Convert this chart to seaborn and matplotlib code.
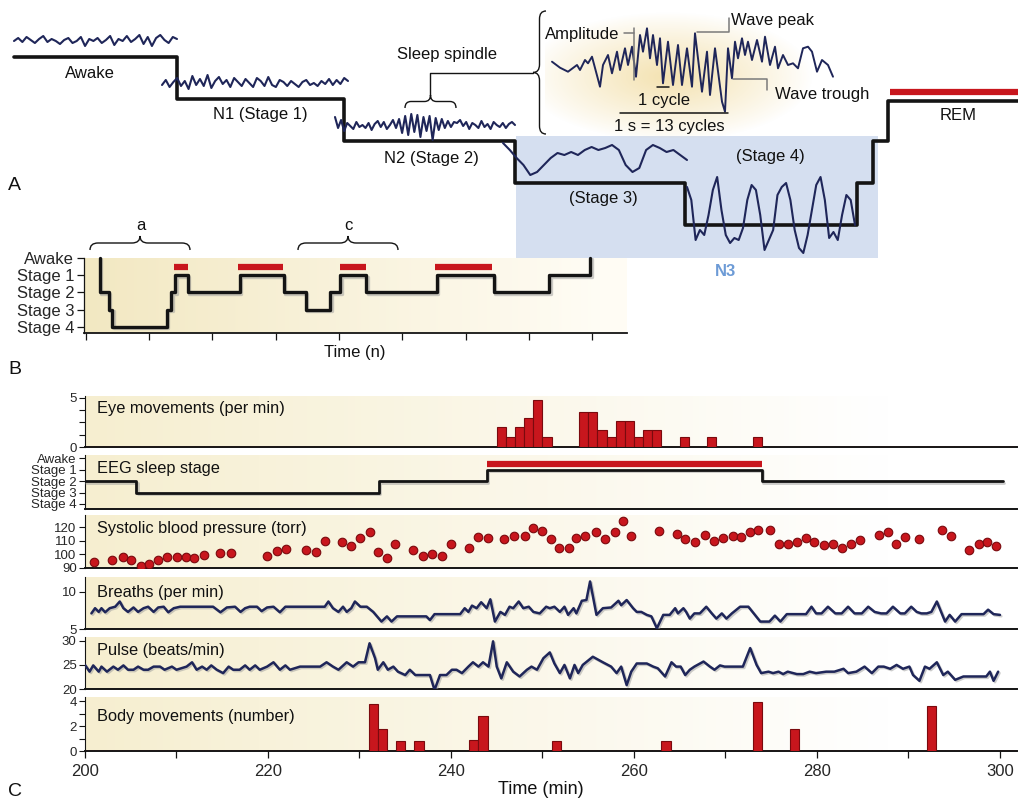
import numpy as np
import pandas as pd
import matplotlib
matplotlib.use("Agg")
import matplotlib.pyplot as plt
import seaborn as sns
from matplotlib.path import Path
from matplotlib.patches import PathPatch, Rectangle
import matplotlib.patheffects as pe

# ======================= DATA =======================
# --- Panel A: schematic hypnogram (schematic time units, stage level 4=Awake ... 0=Stage 4)
a_step_x = [14, 177, 344, 515, 685, 857, 873, 888, 1018]
a_step_level = [4, 3, 2, 1, 0, 1, 2, 2.95, 2.95]
a_rem_span = [890, 1018]
# EEG sample traces (amplitude, arbitrary units)
eeg_awake = [0, 3, -1, 4, 1, -2, 2, 5, -1, 2, 0, -3, 1, 3, -2, 0, 4, -5, 2, 0, 3, -2, 1, 5, -4,
             2, 0, 5, -1, 2, 6, -3, 4, -5, 3, 6, 1, -2, 4, 2]
eeg_n1 = [-2, 3, -4, 1, 5, -3, 2, -6, 7, -2, 4, -3, 8, -5, 2, 6, -1, 3, -4, 5, 1, -3, 4, 0, -4,
          5, 2, -3, 6, -2, -4, 3, 1, -3, 2, -1, -4, 1, 3, -2, 0, -3, 2, -1, 4, -2, 3, -1, 5, 2]
eeg_n2 = [8, -3, 5, -6, 2, -1, -4, 3, -2, 0, -3, 2, -5, 1, 4, -2, 3, -4, 0, 5, -3, 6, -8, 9, -10,
          11, -7, 10, -12, 8, -6, 9, -15, 7, -5, 6, -3, 4, -2, 3, 2, 5, -1, 3, -4, 2, 0, -3, 4, -2,
          1, -4, 3, 0, -2, 2, -3, 1, 3, 0]
eeg_s3 = [40, 33, 25, 18, 8, 11, 18, 25, 30, 28, 31, 28, 33, 36, 33, 35, 38, 33, 18, 11, 15, 33,
          38, 35, 31, 33, 28, 23]
eeg_s4 = [38, 25, -15, -5, -10, 10, 35, 48, 15, -10, -18, -13, -15, -3, 25, 40, 35, 10, -25, -15,
          -5, 30, 38, 42, 25, -5, -23, -28, -10, 15, 40, 48, 25, -13, -7, -15, 10, 30, 25, 0]
eeg_rem = [22, 26, 24, 28, 25, 27, 30, 26, 24, 25, 28, 31, 27, 25, 26, 29, 24, 27, 30, 26, 28, 32,
           27, 25, 29, 31, 26, 28, 33, 27]
# magnified sleep spindle (schematic x, amplitude)
spindle_x = [552, 560, 568, 577, 580, 585, 588, 592, 600, 603, 608, 612, 617, 620, 625, 628, 632,
             636, 640, 643, 647, 650, 653, 657, 660, 663, 668, 673, 678, 682, 687, 692, 695, 702,
             707, 710, 715, 722, 725, 728, 732, 735, 738, 742, 745, 748, 752, 757, 762, 765, 770,
             775, 778, 783, 788, 793, 798, 803, 808, 812, 817, 822, 828, 833]
spindle_amp = [0.3, -5.7, -9.7, -3, -8, 2, -1.3, 5.3, -24.7, -3, 7, -11.3, 10.3, -8, 13.7, -3,
               15.3, -14.7, 27, 10.3, 33.7, 3.7, 27, -3, 23.7, -21.3, 20.3, -23, 17, -23, 13.7,
               -24.7, 28.7, -29.7, 10.3, -33, 13.7, -39.7, -49.7, 13.7, -16.3, 20.3, 3.7, 23.7,
               7, 20.3, 2, 22, 0.3, 25.3, -3, 15.3, -6.3, 7, -3, -1.3, -6.3, 13.7, 15.3, 10.3,
               -9.7, 2, -3, -14.7]

# --- Panel B: hypnogram over one night (time in n units)
b_stage_labels = ["Awake", "Stage 1", "Stage 2", "Stage 3", "Stage 4"]
b_times = [0.22, 0.22, 0.36, 0.42, 1.28, 1.35, 1.41, 1.61, 2.43, 3.13, 3.47, 3.86, 4.02, 4.43,
           5.54, 6.45, 7.32, 7.97, 7.97]
b_levels = [4, 2, 1, 0, 1, 2, 3, 2, 3, 2, 1, 2, 3, 2, 3, 2, 3, 4, 4]
b_rem_start = [1.39, 2.41, 4.02, 5.52]
b_rem_end = [1.61, 3.12, 4.43, 6.42]

# --- Panel C: polysomnography, time in minutes
eye_t = [245, 246, 247, 248, 249, 250, 254, 255, 256, 257, 258, 259, 260, 261, 262, 265, 268, 273]
eye_v = [2, 1, 2, 3, 4.8, 1, 3.6, 3.6, 1.7, 1, 2.7, 2.7, 1, 1.75, 1.75, 1, 1, 1]

eeg_t = [200, 205.6, 232.1, 243.9, 274.0, 300.3]
eeg_level = [2, 1, 2, 3, 2, 2]
eeg_rem = [243.9, 274.0]

sbp_t = [201.0, 203.0, 204.1, 205.0, 206.1, 207.0, 208.0, 209.0, 210.1, 211.0, 211.9, 213.0, 214.8,
         216.0, 219.9, 221.0, 222.0, 224.1, 225.2, 226.2, 228.1, 229.1, 230.1, 231.1, 232.0, 233.0,
         233.9, 235.9, 236.9, 237.9, 239.0, 240.0, 242.0, 242.9, 244.0, 245.8, 246.9, 248.1, 249.0,
         250.0, 250.9, 251.8, 252.9, 253.7, 254.7, 255.8, 256.8, 257.9, 258.8, 259.7, 262.7, 264.7,
         265.6, 266.7, 267.8, 268.7, 269.7, 270.8, 271.7, 272.7, 273.6, 274.9, 275.9, 276.8, 277.8,
         278.8, 279.7, 280.8, 281.8, 282.7, 283.7, 284.7, 286.8, 287.8, 288.6, 289.6, 291.2, 293.7,
         294.6, 296.6, 297.7, 298.6, 299.6]
sbp_v = [94.4, 96.2, 98.1, 96.2, 91.5, 93.2, 96.2, 97.7, 97.7, 97.7, 97.0, 99.4, 101.1,
         101.1, 98.9, 102.6, 103.6, 103.1, 101.4, 109.8, 109.3, 106.3, 112.2, 116.7, 101.4, 97.4,
         107.3, 103.1, 98.9, 100.6, 98.9, 107.3, 104.8, 113.0, 111.8, 111.3, 113.7, 113.5, 119.6,
         117.4, 111.3, 104.8, 104.8, 111.8, 113.7, 116.2, 111.3, 116.2, 124.1, 113.7, 117.4, 115.0,
         111.3, 109.3, 114.2, 110.0, 111.8, 113.7, 113.0, 116.2, 117.9, 117.9, 107.3, 107.3, 108.8,
         111.8, 109.3, 106.8, 107.3, 104.8, 107.3, 110.5, 114.2, 116.2, 107.3, 113.0, 111.3, 117.9,
         113.7, 103.1, 107.3, 108.8, 106.3]

breath_t = [200.7, 201.1, 201.5, 201.8, 202.2, 202.7, 203.3, 203.8, 204.2, 204.7, 205.3, 205.8,
            206.4, 206.9, 207.5, 208.0, 208.6, 209.1, 209.7, 210.4, 214.0, 214.8, 215.5, 216.4,
            217.0, 217.5, 218.0, 218.8, 219.3, 219.9, 220.6, 221.3, 221.9, 226.2, 226.6, 227.1,
            227.7, 228.2, 228.6, 229.1, 229.5, 230.1, 230.8, 231.5, 232.4, 233.0, 233.5, 234.1,
            237.3, 237.7, 238.2, 241.0, 241.5, 241.9, 242.3, 242.8, 243.3, 243.9, 244.3, 244.8,
            245.4, 245.9, 246.4, 246.8, 247.4, 247.9, 248.5, 249.0, 249.7, 250.4, 250.8, 251.3,
            251.9, 252.4, 252.8, 253.4, 253.7, 254.3, 254.8, 255.2, 255.9, 256.6, 257.5, 258.3,
            258.6, 259.2, 259.9, 260.3, 260.8, 261.4, 261.9, 262.5, 263.2, 263.9, 264.5, 264.8,
            265.4, 265.7, 266.1, 266.6, 267.2, 267.9, 268.5, 269.0, 269.6, 270.1, 270.7, 271.6,
            272.5, 273.8, 274.8, 275.4, 276.0, 276.7, 278.8, 279.4, 279.9, 280.5, 281.2, 282.0,
            282.7, 283.4, 284.1, 284.9, 285.6, 286.3, 287.0, 287.6, 288.3, 289.1, 289.6, 290.3,
            290.9, 291.4, 292.0, 292.5, 293.1, 293.4, 294.0, 294.5, 295.1, 295.8, 298.2, 298.7,
            299.3, 300.0]
breath_v = [7.1, 7.8, 7.3, 7.8, 7.25, 7.8, 8.0, 8.7, 7.8, 7.3, 7.9, 7.3,
            7.8, 8.0, 7.3, 7.9, 8.0, 7.25, 7.8, 8.0, 8.0, 7.25, 7.9, 8.0,
            7.3, 7.8, 8.0, 8.0, 7.4, 7.9, 8.0, 7.25, 8.0, 8.0, 8.7, 7.8,
            7.3, 8.0, 7.3, 7.8, 8.7, 8.0, 8.0, 7.3, 6.0, 6.7, 6.0, 6.7,
            6.7, 6.2, 7.0, 7.0, 7.8, 7.3, 8.15, 7.8, 8.6, 7.8, 9.0, 6.0,
            7.3, 6.9, 8.0, 7.8, 8.7, 7.8, 8.0, 7.3, 7.1, 8.0, 7.8, 8.0,
            7.3, 8.0, 6.9, 7.8, 7.1, 8.8, 8.9, 11.4, 6.9, 7.8, 7.9, 8.8,
            8.2, 8.9, 7.8, 7.3, 7.3, 6.9, 6.7, 5.1, 6.9, 6.9, 7.8, 7.1,
            7.8, 7.3, 6.4, 7.1, 7.1, 8.0, 7.1, 6.4, 7.1, 6.4, 7.1, 8.0,
            8.0, 6.0, 6.0, 6.8, 6.0, 7.0, 7.0, 8.0, 7.1, 7.1, 8.0, 7.1,
            7.1, 8.0, 7.1, 7.1, 8.0, 7.3, 7.1, 7.1, 8.0, 7.1, 7.1, 8.0,
            7.3, 7.1, 7.1, 7.3, 8.7, 7.8, 6.0, 6.9, 6.0, 7.0, 7.0, 7.6,
            7.0, 6.9]

pulse_t = [200.0, 200.5, 200.9, 201.5, 201.8, 202.4, 203.1, 203.6, 204.2, 204.7, 205.3, 205.8,
           206.4, 206.9, 207.5, 208.2, 208.7, 209.5, 210.0, 211.1, 211.7, 212.2, 212.8, 213.3,
           213.8, 214.4, 215.1, 215.7, 216.2, 216.9, 217.5, 218.0, 218.6, 219.1, 219.9, 220.6,
           221.3, 221.9, 222.4, 223.5, 225.7, 226.4, 227.1, 227.7, 228.6, 229.3, 229.9, 230.6,
           231.1, 231.7, 232.0, 232.6, 233.1, 233.7, 234.2, 235.0, 235.5, 236.1, 237.7, 238.2,
           238.8, 239.5, 240.1, 240.6, 241.2, 241.9, 242.4, 243.0, 243.5, 244.1, 244.6, 245.0,
           245.5, 246.1, 246.8, 247.5, 248.3, 248.8, 249.4, 250.1, 250.8, 251.3, 251.9, 252.4,
           253.0, 253.5, 253.9, 254.4, 255.5, 256.6, 257.5, 258.1, 258.6, 259.2, 259.7, 260.3,
           261.4, 262.1, 262.6, 263.4, 264.1, 264.6, 265.1, 265.6, 266.1, 266.6, 267.6, 268.3,
           268.8, 269.4, 269.9, 271.9, 272.7, 273.4, 273.9, 274.7, 275.2, 275.8, 276.3, 276.8,
           277.8, 278.5, 279.2, 279.9, 281.0, 281.9, 282.9, 283.4, 284.3, 285.2, 286.0, 286.7,
           287.3, 288.0, 288.7, 289.4, 290.1, 290.5, 291.2, 291.8, 292.3, 293.1, 293.8, 294.3,
           295.1, 296.0, 298.5, 298.9, 299.3, 299.8]
pulse_v = [25.0, 23.6, 24.9, 23.6, 24.65, 23.6, 24.65, 24.0, 24.9, 24.0, 24.0, 24.65,
           24.0, 24.0, 24.65, 24.65, 24.0, 24.65, 24.0, 24.65, 25.55, 24.0, 24.65, 24.0,
           24.9, 24.0, 23.3, 24.65, 24.0, 24.0, 24.9, 24.0, 24.9, 24.0, 24.65, 25.55,
           24.0, 24.9, 24.0, 24.65, 24.65, 25.55, 24.65, 24.0, 25.55, 24.65, 25.55, 25.55,
           29.5, 26.4, 24.0, 25.55, 24.0, 24.65, 23.6, 22.9, 24.0, 22.9, 22.9, 19.8,
           22.9, 22.9, 24.0, 24.0, 23.3, 24.65, 25.55, 24.65, 25.55, 24.65, 29.9, 24.65,
           22.2, 25.55, 23.6, 22.6, 24.0, 24.65, 24.0, 26.4, 27.6, 25.3, 23.3, 25.0,
           22.2, 25.0, 23.3, 25.0, 26.7, 25.55, 24.65, 23.3, 24.65, 20.8, 23.6, 25.3,
           25.3, 24.65, 24.3, 22.6, 25.55, 24.65, 24.65, 22.9, 24.0, 24.65, 25.7, 24.65,
           24.0, 24.9, 24.65, 24.65, 28.5, 25.0, 23.3, 23.6, 23.3, 23.6, 23.1, 23.6,
           23.1, 23.1, 23.6, 23.3, 23.6, 23.6, 24.2, 23.3, 23.6, 24.65, 23.3, 24.65,
           24.65, 24.2, 25.0, 24.2, 24.65, 22.9, 21.7, 24.65, 24.2, 25.55, 22.9, 23.6,
           21.9, 22.6, 22.6, 23.6, 21.7, 23.6]

body_t = [231, 232, 234, 236, 242, 243, 251, 263, 273, 277, 292]
body_v = [3.8, 1.8, 0.8, 0.8, 0.9, 2.8, 0.8, 0.8, 3.9, 1.8, 3.6]

c_titles = ["Eye movements (per min)", "EEG sleep stage", "Systolic blood pressure (torr)",
            "Breaths (per min)", "Pulse (beats/min)", "Body movements (number)"]

# ======================= STYLE / LAYOUT =======================
W, H = 1018, 802
sns.set_theme(style="white")
plt.rcParams["font.family"] = ["Liberation Sans", "DejaVu Sans"]
plt.rcParams["axes.linewidth"] = 0.9
NARROW = ["Liberation Sans Narrow", "Liberation Sans", "DejaVu Sans"]

NAVY = "#1f2659"
RED = "#c8161d"
DRED = "#7a0a0e"
BLACK = "#141414"
GREY = "#7a7a7a"

fig = plt.figure(figsize=(W / 100, H / 100), dpi=100)
fig.patch.set_facecolor("white")


def px_axes(x0, y0, x1, y1, z=1):
    ax = fig.add_axes([x0 / W, 1 - y1 / H, (x1 - x0) / W, (y1 - y0) / H])
    ax.set_zorder(z)
    return ax


def gradient_bg(ax, c0, c1, stop=0.85):
    t = np.linspace(0, 1, 256)
    f = np.clip(t / stop, 0, 1)
    rgb = np.array(c0)[None, :] * (1 - f[:, None]) + np.array(c1)[None, :] * f[:, None]
    ax.imshow(rgb[None, :, :], extent=[0, 1, 0, 1], transform=ax.transAxes,
              aspect="auto", zorder=0, interpolation="bilinear")


shadow = [pe.SimpleLineShadow(offset=(1, -1), shadow_color="#9a9a9a", alpha=0.5), pe.Normal()]

# ---------------- Panel A ----------------
axA = px_axes(0, 0, W, 265, z=1)
PXL = 1 / 42.0  # stage levels per pixel
axA.axis("off")
axA.add_patch(Rectangle((516, -0.786), 362, 2.906, facecolor="#d5dff0", lw=0, zorder=0))
# yellow glow behind inset
gy, gx = np.mgrid[-1:1:140j, -1:1:240j]
r = np.sqrt((gx + 0.15) ** 2 + (gy - 0.1) ** 2 * 1.1)
glow = np.zeros((140, 240, 4))
glow[..., 0], glow[..., 1], glow[..., 2] = 0.95, 0.87, 0.64
glow[..., 3] = np.clip(1 - r, 0, 1) ** 0.9 * 0.85
axA.imshow(glow, extent=[545, 835, 4 - (138 - 57) * PXL, 4 - (2 - 57) * PXL], aspect="auto",
           zorder=0.5, interpolation="bilinear")

sns.lineplot(x=a_step_x, y=a_step_level, drawstyle="steps-post", estimator=None, sort=False,
             color=BLACK, lw=2.6, ax=axA, zorder=3)
axA.hlines(3.17, a_rem_span[0], a_rem_span[1], color=RED, lw=4.5, zorder=3)


def trace(ax, vals, x0, x1, base, lw=1.5, xs=None):
    if xs is None:
        xs = np.linspace(x0, x1, len(vals))
    ys = base + np.array(vals, dtype=float) * PXL
    sns.lineplot(x=np.asarray(xs, dtype=float), y=ys, estimator=None, sort=False, color=NAVY,
                 lw=lw, ax=ax, zorder=4)


trace(axA, eeg_awake, 14, 177, 4 + 16 * PXL)
trace(axA, eeg_n1, 162, 348, 3 + 16 * PXL)
trace(axA, eeg_n2, 335, 515, 2 + 16 * PXL)
trace(axA, eeg_s3, 503, 687, 1)
trace(axA, eeg_s4, 687, 855, 0)
trace(axA, eeg_rem, 890, 1018, 2.95)
trace(axA, spindle_amp, None, None, 4 - 5 * PXL, lw=1.4, xs=spindle_x)
axA.set_xlim(0, W)
axA.set_ylim(4 - (265 - 57) * PXL, 4 + 57 * PXL)

# ---------------- Panel B ----------------
axB = px_axes(84, 258, 627, 333, z=2)
gradient_bg(axB, (0.95, 0.91, 0.76), (1.0, 0.99, 0.96), stop=0.95)
sns.lineplot(x=b_times, y=b_levels, drawstyle="steps-post", estimator=None, sort=False,
             color=BLACK, lw=2.4, ax=axB, zorder=3, clip_on=False, path_effects=shadow)
axB.hlines([3.45] * len(b_rem_start), b_rem_start, b_rem_end, color=RED, lw=4.5, zorder=3)
axB.set_xlim(-0.03, 8.55)
axB.set_ylim(-0.35, 4.0)
axB.set_yticks([4, 3, 2, 1, 0])
axB.set_yticklabels(b_stage_labels, fontsize=12)
axB.set_xticks(range(0, 9))
axB.set_xticklabels([])
for s in ["top", "right"]:
    axB.spines[s].set_visible(False)
for s in ["left", "bottom"]:
    axB.spines[s].set_color(BLACK)
axB.spines["bottom"].set_linewidth(1.3)
axB.tick_params(axis="both", direction="out", length=5, width=0.9, color=BLACK, pad=2,
                left=True, bottom=True)
axB.set_xlabel("")
axB.set_ylabel("")

# ---------------- Panel C ----------------
c_rows = [(396, 447), (455, 509), (515, 568), (577, 629), (637, 689), (697, 751)]
axes_c = [px_axes(85, y0, 1017, y1, z=2) for (y0, y1) in c_rows]
for ax in axes_c:
    gradient_bg(ax, (0.965, 0.935, 0.815), (1.0, 1.0, 1.0), stop=0.86)

eye_df = pd.DataFrame({"t": eye_t, "v": eye_v})
body_df = pd.DataFrame({"t": body_t, "v": body_v})

ax = axes_c[0]
sns.histplot(data=eye_df, x="t", weights="v", binwidth=1, binrange=(200, 302), color=RED,
             edgecolor=DRED, linewidth=0.8, alpha=1, ax=ax, zorder=3)
ax.set_ylim(0, 5.2)
ax.set_yticks([0, 1.25, 2.5, 3.75, 5])
ax.set_yticklabels(["0", "", "", "", "5"])

ax = axes_c[1]
sns.lineplot(x=eeg_t, y=eeg_level, drawstyle="steps-post", estimator=None, sort=False,
             color=BLACK, lw=2.0, ax=ax, zorder=3, path_effects=shadow)
ax.hlines(3.5, eeg_rem[0], eeg_rem[1], color=RED, lw=4.5, zorder=3)
ax.set_ylim(-0.44, 4.3)
ax.set_yticks([4, 3, 2, 1, 0])
ax.set_yticklabels(b_stage_labels, family=NARROW, fontsize=9.5)

ax = axes_c[2]
sns.scatterplot(x=sbp_t, y=sbp_v, color=RED, edgecolor=DRED, linewidth=0.8, s=38, ax=ax,
                zorder=3)
ax.set_ylim(90, 128.8)
ax.set_yticks([90, 100, 110, 120])

ax = axes_c[3]
sns.lineplot(x=breath_t, y=breath_v, estimator=None, sort=False, color=NAVY, lw=1.8, ax=ax,
             zorder=3, path_effects=shadow)
ax.set_ylim(5, 12.0)
ax.set_yticks([5, 10])

ax = axes_c[4]
sns.lineplot(x=pulse_t, y=pulse_v, estimator=None, sort=False, color=NAVY, lw=1.8, ax=ax,
             zorder=3, path_effects=shadow)
ax.set_ylim(20, 30.8)
ax.set_yticks([20, 25, 30])

ax = axes_c[5]
sns.histplot(data=body_df, x="t", weights="v", binwidth=1, binrange=(200, 302), color=RED,
             edgecolor=DRED, linewidth=0.8, alpha=1, ax=ax, zorder=3)
ax.set_ylim(0, 4.33)
ax.set_yticks([0, 1, 2, 3, 4])
ax.set_yticklabels(["0", "", "2", "", "4"])

for i, ax in enumerate(axes_c):
    ax.set_xlim(200, 301.86)
    ax.set_xlabel("")
    ax.set_ylabel("")
    for s in ["top", "right"]:
        ax.spines[s].set_visible(False)
    ax.spines["left"].set_color(BLACK)
    ax.spines["left"].set_linewidth(0.8)
    ax.spines["bottom"].set_color(BLACK)
    ax.spines["bottom"].set_linewidth(1.4)
    if i == 1:
        ax.tick_params(axis="y", direction="out", length=4, width=0.8, color=BLACK, pad=2,
                       left=True)
    else:
        ax.tick_params(axis="y", direction="out", length=4, width=0.8, color=BLACK, pad=2,
                       labelsize=9.5, left=True)
    if i < 5:
        ax.set_xticks([])
    else:
        ax.set_xticks(range(200, 301, 10))
        ax.set_xticklabels([str(v) if v % 20 == 0 else "" for v in range(200, 301, 10)],
                           fontsize=12)
        ax.tick_params(axis="x", direction="out", length=5, width=0.9, color=BLACK,
                       bottom=True, pad=4)

# ---------------- Overlay: labels, braces, leader lines ----------------
ov = px_axes(0, 0, W, H, z=10)
ov.set_xlim(0, W)
ov.set_ylim(H, 0)
ov.axis("off")


def hbrace(ax, x0, x1, yb, yp, q=8, **kw):
    xm, ym = (x0 + x1) / 2, (yb + yp) / 2
    v = [(x0, yb), (x0, ym), (x0 + q, ym), (xm - q, ym), (xm, ym), (xm, yp), (xm, ym),
         (xm + q, ym), (x1 - q, ym), (x1, ym), (x1, yb)]
    c = [Path.MOVETO, Path.CURVE3, Path.CURVE3, Path.LINETO, Path.CURVE3, Path.CURVE3,
         Path.CURVE3, Path.CURVE3, Path.LINETO, Path.CURVE3, Path.CURVE3]
    ax.add_patch(PathPatch(Path(v, c), fill=False, **kw))


def vbrace(ax, y0, y1, xb, xp, q=8, **kw):
    ym, xm = (y0 + y1) / 2, (xb + xp) / 2
    v = [(xb, y0), (xm, y0), (xm, y0 + q), (xm, ym - q), (xm, ym), (xp, ym), (xm, ym),
         (xm, ym + q), (xm, y1 - q), (xm, y1), (xb, y1)]
    c = [Path.MOVETO, Path.CURVE3, Path.CURVE3, Path.LINETO, Path.CURVE3, Path.CURVE3,
         Path.CURVE3, Path.CURVE3, Path.LINETO, Path.CURVE3, Path.CURVE3]
    ax.add_patch(PathPatch(Path(v, c), fill=False, **kw))


bk = dict(color=BLACK, lw=1.0)
hbrace(ov, 90, 190, 250, 236, **bk)
hbrace(ov, 298, 398, 250, 236, **bk)
hbrace(ov, 405, 456, 108, 95, q=6, **bk)
ov.plot([430.5, 430.5, 533], [95, 73, 73], color=BLACK, lw=1.0)
vbrace(ov, 11, 134, 546, 533, q=8, **bk)

# inset leader lines
gl = dict(color=GREY, lw=1.1)
ov.plot([624, 634], [33, 33], **gl)
ov.plot([634, 634], [28, 80], **gl)
ov.plot([697, 729, 729], [32, 32, 18], **gl)
ov.plot([733, 767, 767], [79, 79, 90], **gl)
ov.plot([657, 669], [87, 87], color=BLACK, lw=1.1)
ov.plot([620, 728], [113, 113], color=BLACK, lw=1.1)

tk = dict(fontsize=12, ha="center", va="center", color="#111111")
ov.text(90, 74, "Awake", **tk)
ov.text(260, 115, "N1 (Stage 1)", **tk)
ov.text(431, 158, "N2 (Stage 2)", **tk)
ov.text(603, 199, "(Stage 3)", **tk)
ov.text(770, 157, "(Stage 4)", **tk)
ov.text(958, 116, "REM", **tk)
ov.text(447, 54, "Sleep spindle", **tk)
ov.text(582, 34, "Amplitude", **tk)
ov.text(773, 20, "Wave peak", **tk)
ov.text(822, 94, "Wave trough", **tk)
ov.text(664, 100, "1 cycle", **tk)
ov.text(669, 126, "1 s = 13 cycles", **tk)
ov.text(726, 271, "N3", fontsize=12, ha="center", va="center", color="#6d9bd6",
        fontweight="bold")
ov.text(141, 226, "a", **tk)
ov.text(348, 226, "c", **tk)
ov.text(355, 352, "Time (n)", **tk)
ov.text(541, 790, "Time (min)", fontsize=13, ha="center", va="center", color="#111111")
for lab, y in [("A", 186), ("B", 369), ("C", 792)]:
    ov.text(8, y, lab, fontsize=14, ha="left", va="center", color="#111111")
for title, y in zip(c_titles, [409, 469, 529, 592, 651, 716]):
    ov.text(97, y, title, fontsize=11.8, ha="left", va="center", color="#111111")

fig.savefig("out.png", dpi=100, facecolor="white")
